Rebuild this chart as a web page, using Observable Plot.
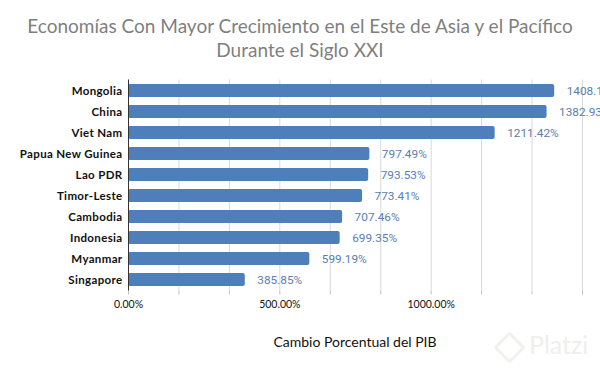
<!DOCTYPE html>
<html>
<head>
<meta charset="utf-8">
<script src="https://cdn.jsdelivr.net/npm/d3@7"></script>
<script src="https://cdn.jsdelivr.net/npm/@observablehq/plot@0.6"></script>
<style>
  html, body { margin: 0; padding: 0; background: #fff; }
  body { width: 600px; height: 371px; position: relative; overflow: hidden; }
  #title { position: absolute; left: 0; top: 14px; width: 600px; text-align: center;
           font-family: Lato, sans-serif; font-size: 19px; line-height: 24px; color: #7f7f7f; }
  #chart { position: absolute; left: 0; top: 70px; }
  #chart g[aria-label="y-axis tick label"] { letter-spacing: 0.35px; }
  #xtitle { position: absolute; left: 128px; width: 454px; top: 333px; text-align: center;
            font-family: Lato, sans-serif; font-size: 14px; color: #111; }
  #wm { position: absolute; left: 492px; top: 332px; width: 108px; height: 28px; }
  #wm .logo { position: absolute; left: 6px; top: 4px; width: 17px; height: 17px; border: 3px solid #f0f3ed;
              transform: rotate(45deg); border-radius: 3px; }
  #wm .txt { position: absolute; left: 37px; top: -3px; font-family: Lato, sans-serif; font-size: 25px; color: #eeefec; }
</style>
</head>
<body>
<div id="title">Economías Con Mayor Crecimiento en el Este de Asia y el Pacífico<br>Durante el Siglo XXI</div>
<div id="chart"></div>
<div id="xtitle">Cambio Porcentual del PIB</div>
<div id="wm"><div class="logo"></div><div class="txt">Platzi</div></div>
<script>
const countries = ["Mongolia", "China", "Viet Nam", "Papua New Guinea", "Lao PDR", "Timor-Leste", "Cambodia", "Indonesia", "Myanmar", "Singapore"];
const values = [1408.12, 1382.93, 1211.42, 797.49, 793.53, 773.41, 707.46, 699.35, 599.19, 385.85];
const tickLabels = [0, 500, 1000];
const gridTicks = [0, 166.67, 333.33, 500, 666.67, 833.33, 1000, 1166.67, 1333.33, 1500];

const data = countries.map((c, i) => ({country: c, value: values[i]}));
const fmt = d => d.toFixed(2) + "%";

const chart = Plot.plot({
  width: 600,
  height: 301,
  marginLeft: 128,
  marginRight: 18,
  marginTop: 9.5,
  marginBottom: 80.5,
  style: {overflow: "visible", background: "transparent"},
  x: {domain: [0, 1500]},
  y: {domain: countries, paddingInner: 0.37, paddingOuter: 0.185},
  marks: [
    Plot.gridX(gridTicks, {stroke: "#d9d9d9", strokeOpacity: 1, strokeWidth: 1}),
    Plot.axisX(gridTicks, {tickSize: 4, stroke: "#bfbfbf", tickFormat: () => "", label: null}),
    Plot.axisX(tickLabels, {tickSize: 0, tickPadding: 10, tickFormat: fmt, label: null,
      fontFamily: "Lato, sans-serif", fontSize: 10.5, fill: "#111"}),
    Plot.barX(data, {x: "value", y: "country", fill: "#4f7fbb", rx: 2}),
    Plot.ruleX([0], {stroke: "#333", strokeWidth: 1}),
    Plot.axisY({tickSize: 0, tickPadding: 6, label: null, fontFamily: "Lato, sans-serif",
      fontSize: 11.5, fontWeight: "bold", fill: "#111"}),
    Plot.text(data, {x: "value", y: "country", text: d => fmt(d.value), dx: 12, textAnchor: "start",
      fill: "#5a7eb0", fontFamily: "Roboto, sans-serif", fontSize: 11.8})
  ]
});
document.getElementById("chart").appendChild(chart);
</script>
</body>
</html>
